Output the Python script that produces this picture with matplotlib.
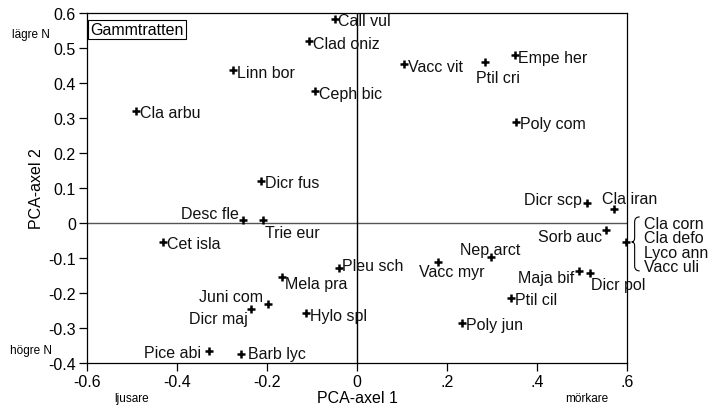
import matplotlib
matplotlib.use("Agg")
import matplotlib.pyplot as plt
from matplotlib.path import Path
from matplotlib.patches import PathPatch
import matplotlib.transforms as mtransforms

plt.rcParams['font.family'] = ['Liberation Sans', 'DejaVu Sans']

# arter och deras PCA-koordinater
arter = ["Call vul", "Clad oniz", "Linn bor", "Ceph bic", "Cla arbu", "Dicr fus",
         "Vacc vit", "Ptil cri", "Empe her", "Poly com", "Dicr scp", "Cla iran",
         "Sorb auc", "Nep arct", "Vacc myr", "Maja bif", "Dicr pol", "Ptil cil",
         "Poly jun", "Pleu sch", "Mela pra", "Juni com", "Dicr maj", "Hylo spl",
         "Pice abi", "Barb lyc", "Cet isla", "Desc fle", "Trie eur"]
axel1 = [-0.050, -0.106, -0.275, -0.093, -0.492, -0.214,
         0.105, 0.285, 0.350, 0.353, 0.512, 0.570,
         0.553, 0.298, 0.179, 0.494, 0.518, 0.343,
         0.233, -0.041, -0.167, -0.197, -0.236, -0.113,
         -0.330, -0.258, -0.432, -0.253, -0.208]
axel2 = [0.584, 0.519, 0.437, 0.376, 0.320, 0.121,
         0.454, 0.460, 0.479, 0.290, 0.056, 0.039,
         -0.021, -0.097, -0.112, -0.138, -0.142, -0.213,
         -0.285, -0.128, -0.155, -0.231, -0.245, -0.258,
         -0.365, -0.375, -0.054, 0.009, 0.010]

# fyra arter i samma punkt
grupp = ["Cla corn", "Cla defo", "Lyco ann", "Vacc uli"]
grupp_x, grupp_y = 0.597, -0.054

xticks = [-0.6, -0.4, -0.2, 0, 0.2, 0.4, 0.6]
xticklabels = ["-0.6", "-0.4", "-0.2", "0", ".2", ".4", ".6"]
yticks = [0.6, 0.5, 0.4, 0.3, 0.2, 0.1, 0, -0.1, -0.2, -0.3, -0.4]
yticklabels = ["0.6", "0.5", "0.4", "0.3", "0.2", "0.1", "0", "-0.1", "-0.2", "-0.3", "-0.4"]

# etikettplacering i pixlar: (dx, dy, ha)
plac = {
    "Ptil cri": (-9, -15, "left"), "Dicr scp": (-6, 4, "right"),
    "Cla iran": (-11, 11, "left"), "Sorb auc": (-4, -6, "right"),
    "Nep arct": (-31, 7, "left"), "Vacc myr": (-19, -9, "left"),
    "Maja bif": (-5, -6, "right"), "Dicr pol": (1, -12, "left"),
    "Pleu sch": (3, 2, "left"), "Mela pra": (3, -6, "left"),
    "Juni com": (-5, 7, "right"), "Dicr maj": (-3, -10, "right"),
    "Pice abi": (-7, -2, "right"), "Barb lyc": (7, 1, "left"),
    "Desc fle": (-4, 6, "right"), "Trie eur": (2, -13, "left"),
}

fs = 11.5

fig = plt.figure(figsize=(7.09, 4.10), dpi=100)
ax = fig.add_axes([87 / 709, 1 - 364 / 410, 540 / 709, 350 / 410])
ax.set_xlim(-0.6, 0.6)
ax.set_ylim(-0.4, 0.6)

ax.axhline(0, color="#555555", lw=1.0, zorder=1)
ax.axvline(0, color="black", lw=1.0, zorder=1)

ax.plot(axel1, axel2, "+", color="black", ms=6, mew=1.8, clip_on=False, zorder=3)
ax.plot([grupp_x], [grupp_y], "+", color="black", ms=6, mew=1.8, clip_on=False, zorder=3)

for namn, x, y in zip(arter, axel1, axel2):
    dx, dy, ha = plac.get(namn, (4, -2, "left"))
    ax.annotate(namn, (x, y), xytext=(dx, dy), textcoords="offset pixels",
                ha=ha, va="center", fontsize=fs, color="#111111")

# klammer och gruppens namn
tr = mtransforms.Affine2D() + mtransforms.ScaledTranslation(grupp_x, grupp_y, ax.transData)
verts = [(14, 25), (9, 25), (9, 20), (9, 4), (9, 0), (6, 0),
         (9, 0), (9, -4), (9, -24), (9, -29), (14, -29)]
codes = [Path.MOVETO, Path.CURVE3, Path.CURVE3, Path.LINETO, Path.CURVE3, Path.CURVE3,
         Path.CURVE3, Path.CURVE3, Path.LINETO, Path.CURVE3, Path.CURVE3]
ax.add_patch(PathPatch(Path(verts, codes), transform=tr, fill=False, lw=0.8,
                       color="black", clip_on=False))
for i, namn in enumerate(grupp):
    ax.annotate(namn, (grupp_x, grupp_y), xytext=(18, 18.3 - 14.3 * i),
                textcoords="offset pixels", ha="left", va="center",
                fontsize=fs, color="#111111", annotation_clip=False)

ax.text(0.006, 0.975, "Gammtratten", transform=ax.transAxes, ha="left", va="top",
        fontsize=fs, bbox=dict(boxstyle="square,pad=0.12", fc="white", ec="black", lw=0.8))

ax.set_xticks(xticks)
ax.set_xticklabels(xticklabels)
ax.set_yticks(yticks)
ax.set_yticklabels(yticklabels)
ax.tick_params(labelsize=fs, length=6, width=0.9, pad=2, colors="black")
for s in ax.spines.values():
    s.set_linewidth(0.9)

ax.set_xlabel("PCA-axel 1", fontsize=fs, labelpad=1)
ax.set_ylabel("PCA-axel 2", fontsize=fs, labelpad=3)

fig.text(31 / 709, 1 - 35 / 410, "lägre N", fontsize=8.5, ha="center", va="center")
fig.text(31 / 709, 1 - 351 / 410, "högre N", fontsize=8.5, ha="center", va="center")
fig.text(132 / 709, 1 - 399 / 410, "ljusare", fontsize=8.5, ha="center", va="center")
fig.text(587 / 709, 1 - 399 / 410, "mörkare", fontsize=8.5, ha="center", va="center")

fig.savefig("out.png", dpi=100)
